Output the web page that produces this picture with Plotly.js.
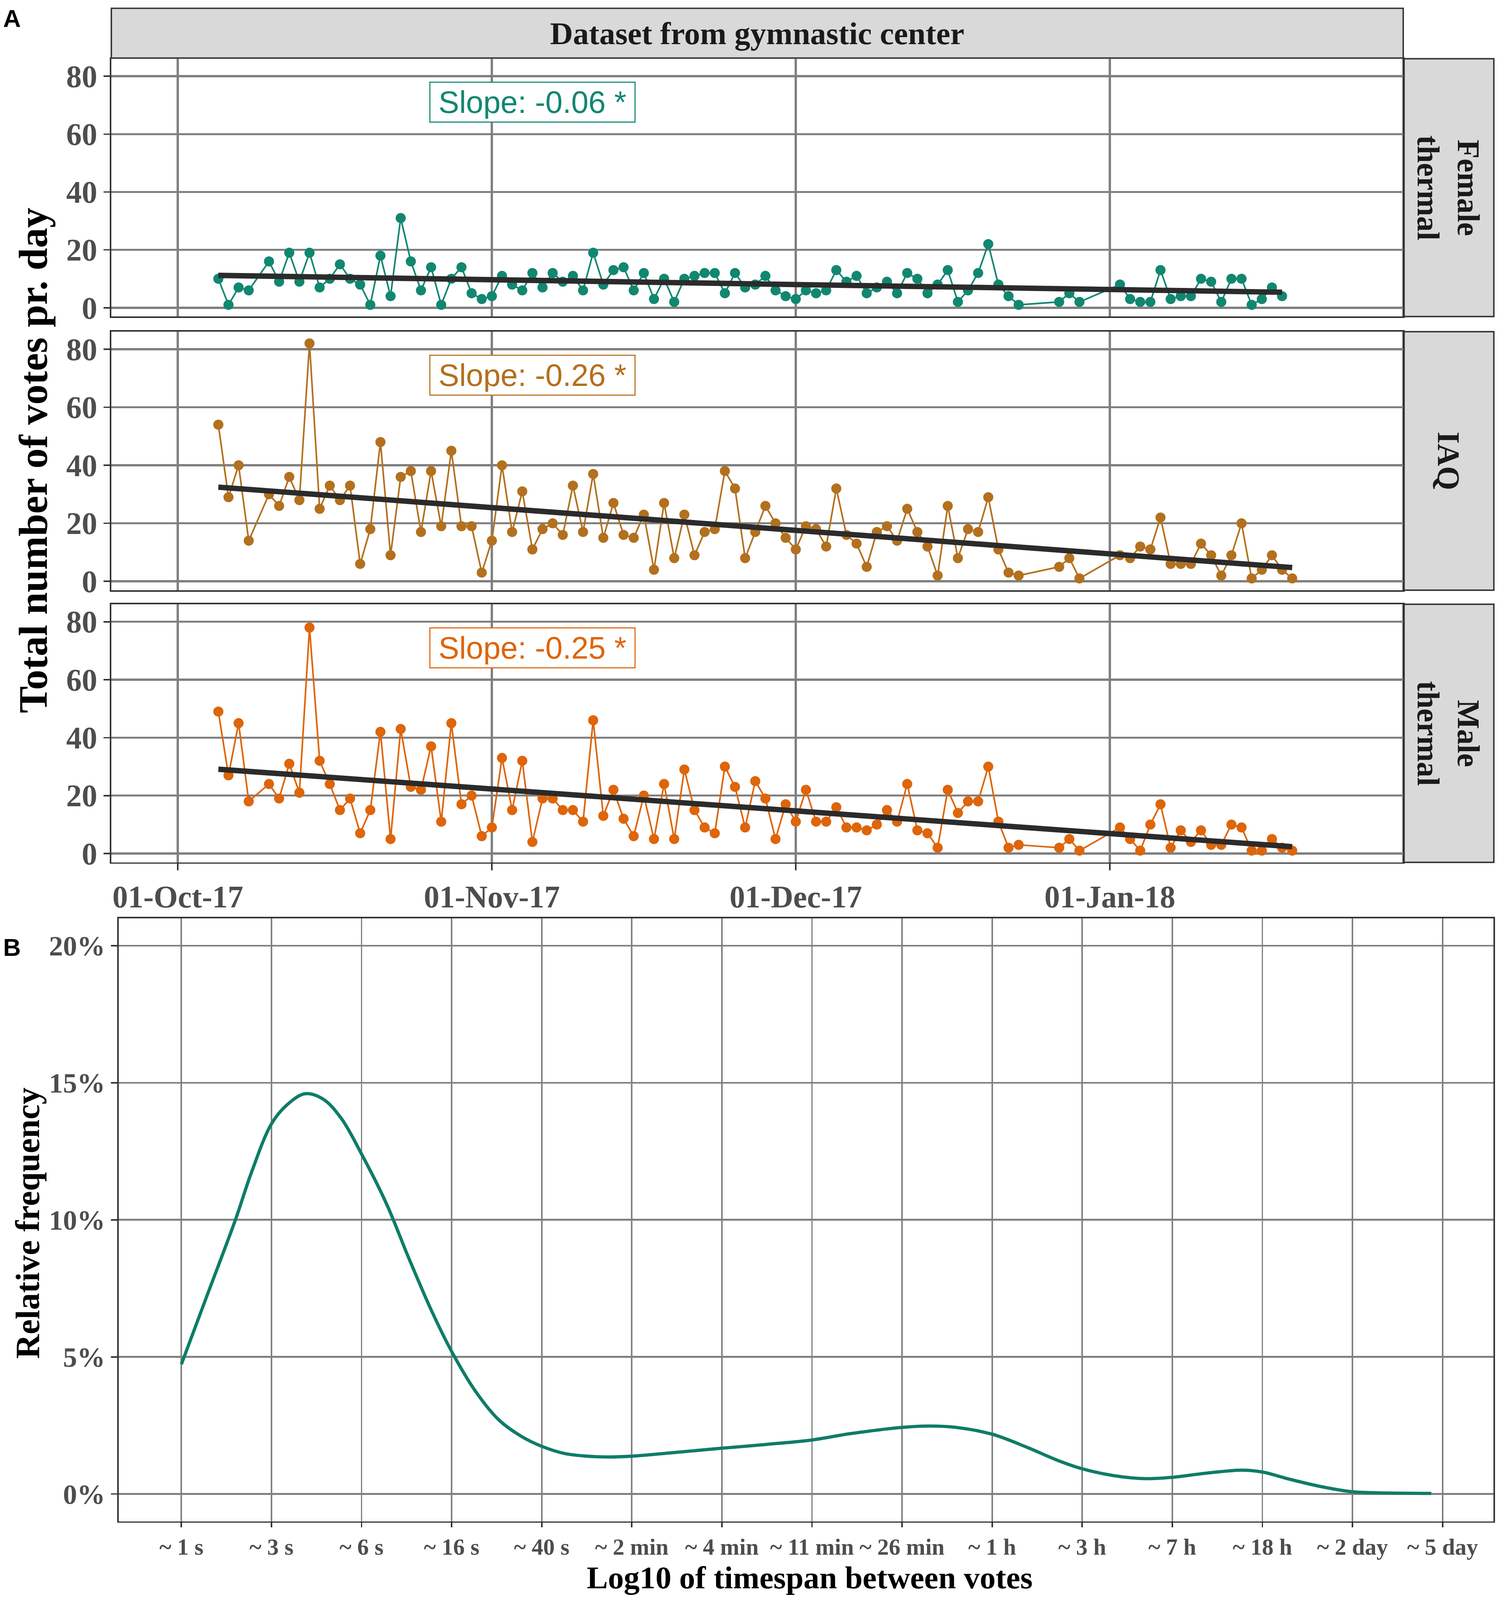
<!DOCTYPE html>
<html>
<head>
<meta charset="utf-8">
<script src="https://cdn.plot.ly/plotly-3.0.1.min.js"></script>
<style>html,body{margin:0;padding:0;background:#fff;overflow:hidden;}#chart{position:absolute;left:0;top:0;}</style>
</head>
<body>
<div id="chart"></div>
<script>
// ---------- DATA ----------
const dates = [
 "2017-10-05","2017-10-06","2017-10-07","2017-10-08",
 "2017-10-10","2017-10-11","2017-10-12","2017-10-13","2017-10-14","2017-10-15","2017-10-16","2017-10-17","2017-10-18","2017-10-19","2017-10-20",
 "2017-10-21","2017-10-22","2017-10-23","2017-10-24","2017-10-25","2017-10-26","2017-10-27","2017-10-28","2017-10-29","2017-10-30","2017-10-31",
 "2017-11-01","2017-11-02","2017-11-03","2017-11-04","2017-11-05","2017-11-06","2017-11-07","2017-11-08","2017-11-09","2017-11-10",
 "2017-11-11","2017-11-12","2017-11-13","2017-11-14","2017-11-15","2017-11-16","2017-11-17","2017-11-18","2017-11-19","2017-11-20",
 "2017-11-21","2017-11-22","2017-11-23","2017-11-24","2017-11-25","2017-11-26","2017-11-27","2017-11-28","2017-11-29","2017-11-30",
 "2017-12-01","2017-12-02","2017-12-03","2017-12-04","2017-12-05","2017-12-06","2017-12-07","2017-12-08","2017-12-09","2017-12-10",
 "2017-12-11","2017-12-12","2017-12-13","2017-12-14","2017-12-15","2017-12-16","2017-12-17","2017-12-18","2017-12-19","2017-12-20",
 "2017-12-21","2017-12-22","2017-12-23",
 "2017-12-27","2017-12-28","2017-12-29",
 "2018-01-02","2018-01-03","2018-01-04","2018-01-05","2018-01-06","2018-01-07","2018-01-08","2018-01-09","2018-01-10","2018-01-11",
 "2018-01-12","2018-01-13","2018-01-14","2018-01-15","2018-01-16","2018-01-17","2018-01-18","2018-01-19"
];
const femaleThermal = [
 10,1,7,6,
 16,9,19,9,19,7,10,15,10,8,1,
 18,4,31,16,6,14,1,10,14,5,3,
 4,11,8,6,12,7,12,9,11,6,
 19,8,13,14,6,12,3,10,2,10,
 11,12,12,5,12,7,8,11,6,4,
 3,6,5,6,13,9,11,5,7,9,
 5,12,10,5,8,13,2,6,12,22,
 8,4,1,
 2,5,2,
 8,3,2,2,13,3,4,4,10,9,
 2,10,10,1,3,7,4,null
];
const iaq = [
 54,29,40,14,
 30,26,36,28,82,25,33,28,33,6,18,
 48,9,36,38,17,38,19,45,19,19,3,
 14,40,17,31,11,18,20,16,33,17,
 37,15,27,16,15,23,4,27,8,23,
 9,17,18,38,32,8,17,26,20,15,
 11,19,18,12,32,16,13,5,17,19,
 14,25,17,12,2,26,8,18,17,29,
 11,3,2,
 5,8,1,
 9,8,12,11,22,6,6,6,13,9,
 2,9,20,1,4,9,4,1
];
const maleThermal = [
 49,27,45,18,
 24,19,31,21,78,32,24,15,19,7,15,
 42,5,43,23,22,37,11,45,17,20,6,
 9,33,15,32,4,19,19,15,15,11,
 46,13,22,12,6,20,5,24,5,29,
 15,9,7,30,23,9,25,19,5,17,
 11,22,11,11,16,9,9,8,10,15,
 11,24,8,7,2,22,14,18,18,30,
 11,2,3,
 2,5,1,
 9,5,1,10,17,2,8,4,8,3,
 3,10,9,1,1,5,2,1
];
const panelNames = ["Female<br>thermal", "IAQ", "Male<br>thermal"];
const slopeLabels = ["Slope: -0.06 *", "Slope: -0.26 *", "Slope: -0.25 *"];
const dateTickVals = ["2017-10-01","2017-11-01","2017-12-01","2018-01-01"];
const dateTickText = ["01-Oct-17","01-Nov-17","01-Dec-17","01-Jan-18"];

// Panel B: density of log10(seconds between votes), in %
const logSpan = [0,0.11,0.24,0.31,0.40,0.47,0.55,0.63,0.71,0.80,0.91,1.01,1.11,1.20,1.31,1.41,1.51,1.60,1.70,1.80,1.90,2.00,2.20,2.40,2.60,2.80,2.97,3.20,3.32,3.44,3.60,3.75,3.89,4.00,4.14,4.28,4.40,4.55,4.71,4.80,4.92,5.06,5.20,5.33,5.55];
const relFreq = [4.73,7.15,10.0,11.7,13.5,14.2,14.6,14.4,13.7,12.4,10.6,8.6,6.7,5.2,3.7,2.7,2.1,1.74,1.48,1.38,1.35,1.38,1.52,1.67,1.81,1.97,2.2,2.43,2.48,2.43,2.18,1.72,1.23,0.92,0.67,0.56,0.61,0.76,0.87,0.80,0.54,0.27,0.08,0.04,0.02];
const spanTickVals = [0,0.4,0.8,1.2,1.6,2.0,2.4,2.8,3.2,3.6,4.0,4.4,4.8,5.2,5.6];
const spanTickText = ["~ 1 s","~ 3 s","~ 6 s","~ 16 s","~ 40 s","~ 2 min","~ 4 min","~ 11 min","~ 26 min","~ 1 h","~ 3 h","~ 7 h","~ 18 h","~ 2 day","~ 5 day"];
const freqTickVals = [0,5,10,15,20];
const freqTickText = ["0%","5%","10%","15%","20%"];

// ---------- STYLE ----------
const REFW = 3850, REFH = 4438;
const W = window.innerWidth || REFW, H = window.innerHeight || REFH;
const s = Math.min(W / REFW, H / REFH);   // scale for fonts & widths
const px = p => p / REFW;
const py = p => 1 - p / REFH;
const colors = ["#118770", "#B3701E", "#DE6509"];
const serif = "Liberation Serif, Times New Roman, serif";
const sans = "Liberation Sans, Arial, sans-serif";
const gridCol = "#808080";
const panelY = [[163, 878], [920, 1637], [1676, 2392]];
const panelX = [285, 3592];
const stripX = [3592, 3824];

function fit(ds, vs) {
  const t0 = Date.parse(ds[0]);
  const xs = [], ys = [], dd = [];
  ds.forEach((d, i) => { if (vs[i] !== null) { xs.push((Date.parse(d) - t0) / 864e5); ys.push(vs[i]); dd.push(d); } });
  const n = xs.length;
  const mx = xs.reduce((a, b) => a + b, 0) / n, my = ys.reduce((a, b) => a + b, 0) / n;
  let sxy = 0, sxx = 0;
  for (let i = 0; i < n; i++) { sxy += (xs[i] - mx) * (ys[i] - my); sxx += (xs[i] - mx) ** 2; }
  const b = sxy / sxx, a = my - b * mx;
  return { x: [dd[0], dd[n - 1]], y: [a + b * xs[0], a + b * xs[n - 1]] };
}

const series = [femaleThermal, iaq, maleThermal];
const traces = [];
series.forEach((vals, i) => {
  const ax = i === 0 ? "" : String(i + 1);
  traces.push({
    x: dates, y: vals, xaxis: "x" + ax, yaxis: "y" + ax, type: "scatter", mode: "lines+markers",
    line: { color: colors[i], width: 4.5 * s }, marker: { color: colors[i], size: 28 * s }, connectgaps: false, hoverinfo: "skip"
  });
  const f = fit(dates, vals);
  traces.push({
    x: f.x, y: f.y, xaxis: "x" + ax, yaxis: "y" + ax, type: "scatter", mode: "lines",
    line: { color: "#2b2b2b", width: 15 * s }, hoverinfo: "skip"
  });
});
traces.push({
  x: logSpan, y: relFreq, xaxis: "x4", yaxis: "y4", type: "scatter", mode: "lines",
  line: { color: "#0F7C68", width: 9 * s, shape: "spline", smoothing: 1 }, hoverinfo: "skip"
});

const tickFontTop = { family: serif, size: 86 * s, color: "#4D4D4D", weight: 700 };
const tickFontB = { family: serif, size: 78 * s, color: "#4D4D4D", weight: 700 };
const tickFontBx = { family: serif, size: 64 * s, color: "#4D4D4D", weight: 700 };
const dateRange = ["2017-09-24 10:30", "2018-01-29 23:00"];

const layout = {
  width: W, height: H, margin: { l: 0, r: 0, t: 0, b: 0 },
  paper_bgcolor: "#fff", plot_bgcolor: "#fff", showlegend: false,
  font: { family: serif, color: "#000" },
  shapes: [], annotations: []
};

for (let i = 0; i < 3; i++) {
  const ax = i === 0 ? "" : String(i + 1);
  layout["xaxis" + ax] = {
    domain: [px(panelX[0]), px(panelX[1])], anchor: "y" + ax, type: "date", range: dateRange,
    tickmode: "array", tickvals: dateTickVals, ticktext: dateTickText, tickangle: 0,
    showticklabels: i === 2, ticks: i === 2 ? "outside" : "", ticklen: 18 * s, tickwidth: 4 * s, tickcolor: "#333",
    tickfont: tickFontTop, showgrid: true, gridcolor: gridCol, gridwidth: 6 * s, zeroline: false,
    showline: true, mirror: true, linecolor: "#333", linewidth: 4 * s, automargin: false, fixedrange: true
  };
  layout["yaxis" + ax] = {
    domain: [py(panelY[i][1]), py(panelY[i][0])], anchor: "x" + ax, range: [-3.05, 86.05],
    tickmode: "array", tickvals: [0, 20, 40, 60, 80], ticks: "outside", ticklen: 18 * s, tickwidth: 4 * s, tickcolor: "#333",
    tickfont: tickFontTop, showgrid: true, gridcolor: gridCol, gridwidth: 6 * s, zeroline: false,
    showline: true, mirror: true, linecolor: "#333", linewidth: 4 * s, automargin: false, fixedrange: true
  };
  layout.shapes.push({ type: "rect", xref: "paper", yref: "paper", x0: px(stripX[0]), x1: px(stripX[1]),
    y0: py(panelY[i][1]), y1: py(panelY[i][0]), fillcolor: "#D9D9D9", line: { color: "#333", width: 4 * s }, layer: "below" });
  layout.annotations.push({ xref: "paper", yref: "paper", x: px((stripX[0] + stripX[1]) / 2), y: py((panelY[i][0] + panelY[i][1]) / 2),
    text: panelNames[i], textangle: 90, showarrow: false, font: { family: serif, size: 86 * s, color: "#1a1a1a", weight: 700 },
    xanchor: "center", yanchor: "middle" });
  layout.annotations.push({ xref: "x" + ax, yref: "y" + ax, x: "2017-11-05", y: 71, text: slopeLabels[i], showarrow: false,
    font: { family: sans, size: 86 * s, color: colors[i] }, bgcolor: "#fff", bordercolor: colors[i], borderwidth: 3 * s, borderpad: 8 * s,
    width: 550 * s, height: 92 * s, align: "center", valign: "middle", xanchor: "center", yanchor: "middle" });
}
layout.shapes.push({ type: "rect", xref: "paper", yref: "paper", x0: px(panelX[0]), x1: px(panelX[1]),
  y0: py(161), y1: py(23), fillcolor: "#D9D9D9", line: { color: "#333", width: 4 * s }, layer: "below" });
layout.annotations.push({ xref: "paper", yref: "paper", x: px((panelX[0] + panelX[1]) / 2), y: py(93),
  text: "Dataset from gymnastic center", showarrow: false, font: { family: serif, size: 88 * s, color: "#1a1a1a", weight: 700 },
  xanchor: "center", yanchor: "middle" });
layout.annotations.push({ xref: "paper", yref: "paper", x: px(85), y: py(1277), text: "Total number of votes pr. day",
  textangle: -90, showarrow: false, font: { family: serif, size: 112 * s, color: "#000", weight: 700 }, xanchor: "center", yanchor: "middle" });
layout.annotations.push({ xref: "paper", yref: "paper", x: px(6), y: py(51), text: "A", showarrow: false,
  font: { family: sans, size: 68 * s, color: "#000", weight: 700 }, xanchor: "left", yanchor: "middle" });
layout.annotations.push({ xref: "paper", yref: "paper", x: px(6), y: py(2627), text: "B", showarrow: false,
  font: { family: sans, size: 68 * s, color: "#000", weight: 700 }, xanchor: "left", yanchor: "middle" });

layout.xaxis4 = {
  domain: [px(304), px(3823)], anchor: "y4", range: [-0.278, 5.826],
  tickmode: "array", tickvals: spanTickVals, ticktext: spanTickText, tickangle: 0, ticks: "outside", ticklen: 12 * s, tickwidth: 4 * s, tickcolor: "#333",
  tickfont: tickFontBx, showgrid: true, gridcolor: gridCol, gridwidth: 4 * s, zeroline: false,
  showline: true, mirror: true, linecolor: "#333", linewidth: 4 * s, automargin: false, fixedrange: true
};
layout.yaxis4 = {
  domain: [py(4220), py(2547)], anchor: "x4", range: [-1, 21],
  tickmode: "array", tickvals: freqTickVals, ticktext: freqTickText, ticks: "outside", ticklen: 18 * s, tickwidth: 4 * s, tickcolor: "#333",
  tickfont: tickFontB, showgrid: true, gridcolor: gridCol, gridwidth: 5 * s, zeroline: false,
  showline: true, mirror: true, linecolor: "#333", linewidth: 4 * s, automargin: false, fixedrange: true
};
layout.annotations.push({ xref: "paper", yref: "paper", x: px(2072), y: py(4376), text: "Log10 of timespan between votes",
  showarrow: false, font: { family: serif, size: 88 * s, color: "#000", weight: 700 }, xanchor: "center", yanchor: "middle" });
layout.annotations.push({ xref: "paper", yref: "paper", x: px(71), y: py(3393), text: "Relative frequency", textangle: -90,
  showarrow: false, font: { family: serif, size: 94 * s, color: "#000", weight: 700 }, xanchor: "center", yanchor: "middle" });

document.getElementById("chart").style.width = W + "px";
document.getElementById("chart").style.height = H + "px";
Plotly.newPlot("chart", traces, layout, { staticPlot: true, displayModeBar: false });
</script>
</body>
</html>
